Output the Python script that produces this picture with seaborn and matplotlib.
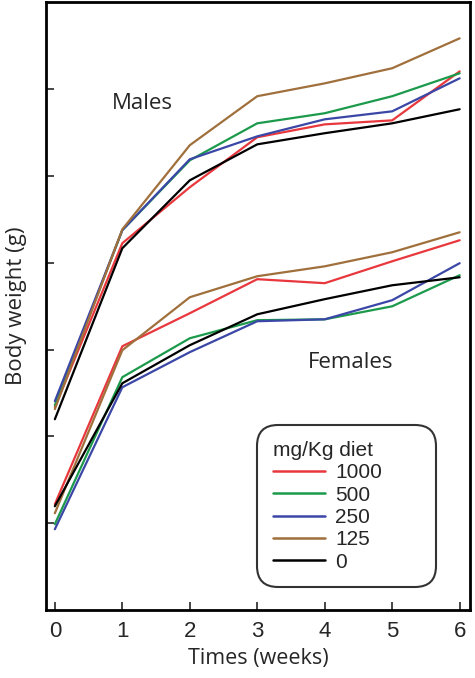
import numpy as np
import pandas as pd
import matplotlib
matplotlib.use("Agg")
import matplotlib.pyplot as plt
import seaborn as sns
from matplotlib.lines import Line2D

# weeks and body weight readings (axis is unlabelled, ticks every 50)
weeks = [0, 1, 2, 3, 4, 5, 6]
doses = ["1000", "500", "250", "125", "0"]

males_1000 = [116.8, 211.2, 243.4, 272.2, 279.6, 281.9, 310.1]
males_500 = [118.0, 218.7, 258.9, 280.2, 286.0, 295.8, 309.0]
males_250 = [120.3, 218.7, 259.5, 272.7, 282.5, 287.1, 306.1]
males_125 = [115.7, 219.2, 267.6, 295.8, 303.2, 311.9, 329.1]
males_0 = [109.9, 208.3, 247.4, 268.1, 274.5, 280.2, 288.3]

females_1000 = [61.0, 151.9, 170.9, 190.5, 188.2, 200.8, 212.9]
females_500 = [49.5, 134.1, 156.5, 166.9, 167.4, 174.9, 192.8]
females_250 = [46.6, 128.3, 148.5, 166.3, 167.4, 178.4, 199.7]
females_125 = [55.8, 149.6, 180.1, 192.2, 197.9, 206.0, 217.5]
females_0 = [59.8, 130.6, 152.5, 170.3, 179.0, 187.0, 191.6]

palette = {"1000": "#e8383d", "500": "#1c9a4c", "250": "#3b47a6",
           "125": "#a0703c", "0": "#000000"}

rows = []
for sex, series in [("Males", [males_1000, males_500, males_250, males_125, males_0]),
                    ("Females", [females_1000, females_500, females_250, females_125, females_0])]:
    for dose, vals in zip(doses, series):
        for w, v in zip(weeks, vals):
            rows.append({"week": w, "weight": v, "dose": dose, "sex": sex})
df = pd.DataFrame(rows)

sns.set_style("ticks")
plt.rcParams["font.family"] = ["Liberation Sans", "DejaVu Sans"]

fig = plt.figure(figsize=(4.75, 6.78), dpi=100)
ax = fig.add_axes([0.097, 0.100, 0.892, 0.897])

sns.lineplot(data=df, x="week", y="weight", hue="dose", units="sex",
             estimator=None, palette=palette, hue_order=doses,
             linewidth=1.6, legend=False, ax=ax)

ax.set_xlim(-0.13, 6.15)
ax.set_ylim(0, 350)
ax.set_xticks(weeks)
ax.set_yticks([50, 100, 150, 200, 250, 300])
ax.set_yticklabels([])
ax.tick_params(axis="both", direction="in", length=6, width=1.2,
               labelsize=16, pad=8)
for s in ax.spines.values():
    s.set_linewidth(2)
    s.set_color("black")

ax.set_xlabel("Times (weeks)", fontsize=15.5, family="Open Sans", labelpad=4)
ax.set_ylabel("Body weight (g)", fontsize=16, family="Open Sans", labelpad=6)

ax.text(1.3, 291.7, "Males", fontsize=16, family="Open Sans",
        ha="center", va="center")
ax.text(4.39, 142.7, "Females", fontsize=16, family="Open Sans",
        ha="center", va="center")

# legend box stretched to the width of the original rounded frame
handles = [Line2D([0], [0], color=palette[d], lw=1.8) for d in doses]
leg = ax.legend(handles, doses, title="mg/Kg diet", loc="upper left",
                bbox_to_anchor=(0.498, 0.04, 0.422, 0.264), mode="expand",
                fontsize=15, title_fontsize=15, handlelength=2.5,
                handletextpad=0.5, labelspacing=0.16, borderpad=0.75,
                borderaxespad=0, fancybox=True, frameon=True,
                alignment="left")
leg.get_frame().set_edgecolor("black")
leg.get_frame().set_linewidth(1.5)
leg.get_frame().set_boxstyle("round", pad=0.0, rounding_size=1.0)

fig.savefig("out.png", dpi=100)
